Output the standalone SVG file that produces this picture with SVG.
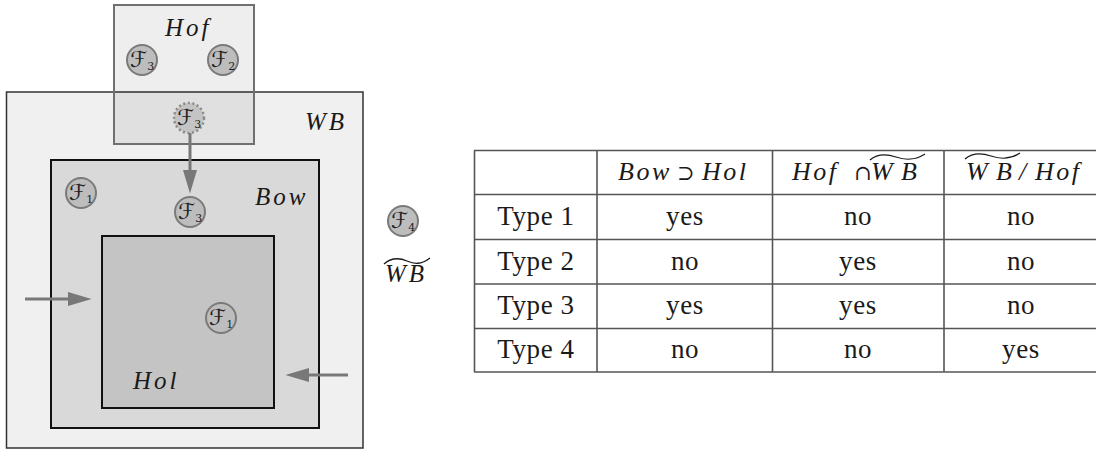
<svg xmlns="http://www.w3.org/2000/svg" width="1096" height="451" viewBox="0 0 1096 451">
<defs>
<marker id="ah" markerUnits="userSpaceOnUse" markerWidth="24" markerHeight="14" viewBox="0 0 22 13" refX="14" refY="6.5" orient="auto">
<path d="M0,0 L22,6.5 L0,13 z" fill="#787878"/>
</marker>
<style>
.lbl{font-family:"Liberation Serif","DejaVu Serif",serif;font-style:italic;font-size:25px;fill:#1a1a1a;letter-spacing:3px}
.cal{font-family:"DejaVu Serif","DejaVu Sans",serif;font-size:22px;fill:#222}
.sub{font-size:11px}
.cell{font-family:"Liberation Serif","DejaVu Serif",serif;font-size:27px;fill:#1a1a1a;text-anchor:middle;letter-spacing:0.6px}
.hd{font-family:"Liberation Serif","DejaVu Serif",serif;font-size:26px;font-style:italic;fill:#1a1a1a;letter-spacing:2.5px}
.op{font-family:"DejaVu Serif",serif;font-size:21px;fill:#1a1a1a}
.node{fill:#bdbdbd;stroke:#7a7a7a;stroke-width:2}
.tl{stroke:#555;stroke-width:1.6}
.tilde{fill:none;stroke:#1a1a1a;stroke-width:1.3}
.arrow{stroke:#787878;stroke-width:3;fill:none;marker-end:url(#ah)}
</style>
</defs>
<rect width="1096" height="451" fill="#fff"/>

<g id="WB">
<rect x="6.5" y="92" width="356.5" height="356" fill="#f0f0f0" stroke="#333" stroke-width="1.5"/>
<text class="lbl" x="305" y="130" letter-spacing="5">WB</text>
</g>
<g id="Hof">
<rect x="114" y="5" width="140" height="139" fill="#000" fill-opacity="0.065" stroke="#707070" stroke-width="2"/>
<text class="lbl" x="165" y="36">Hof</text>
</g>
<g id="Bow">
<rect x="51" y="160" width="268" height="268" fill="#d9d9d9" stroke="#111" stroke-width="2"/>
<text class="lbl" x="255" y="205">Bow</text>
</g>
<g id="Hol">
<rect x="102" y="236" width="172" height="172" fill="#c4c4c4" stroke="#111" stroke-width="2"/>
<text class="lbl" x="133" y="389" letter-spacing="2">Hol</text>
</g>

<g id="F3_hof">
<circle class="node" cx="142" cy="60" r="15"/>
<text class="cal" x="130" y="67">ℱ<tspan class="sub" dy="3">3</tspan></text>
</g>
<g id="F2_hof">
<circle class="node" cx="223" cy="60" r="15"/>
<text class="cal" x="211" y="67">ℱ<tspan class="sub" dy="3">2</tspan></text>
</g>
<g id="F3_dashed">
<circle cx="189" cy="118" r="15" fill="#c4c4c4" stroke="#8a8a8a" stroke-width="2.5" stroke-dasharray="2 2.6"/>
<text class="cal" x="177" y="125">ℱ<tspan class="sub" dy="3">3</tspan></text>
</g>
<g id="F1_bow">
<circle class="node" cx="81" cy="193" r="15"/>
<text class="cal" x="69" y="200">ℱ<tspan class="sub" dy="3">1</tspan></text>
</g>
<g id="F3_bow">
<circle class="node" cx="190" cy="212" r="15"/>
<text class="cal" x="178" y="219">ℱ<tspan class="sub" dy="3">3</tspan></text>
</g>
<g id="F1_hol">
<circle class="node" cx="221" cy="318" r="15" fill="#b8b8b8"/>
<text class="cal" x="209" y="325">ℱ<tspan class="sub" dy="3">1</tspan></text>
</g>
<g id="F4">
<circle class="node" cx="403" cy="221" r="15" fill="#c8c8c8"/>
<text class="cal" x="391" y="228">ℱ<tspan class="sub" dy="3">4</tspan></text>
</g>
<g id="WBtilde">
<path class="tilde" d="M384,264 C392,257 400,258 407,261 C414,264 421,265 430,258"/>
<text class="lbl" x="385" y="282" letter-spacing="5">WB</text>
</g>

<g id="connectors">
<line class="arrow" x1="190" y1="133" x2="190" y2="185"/>
<line class="arrow" x1="25" y1="299" x2="83" y2="299"/>
<line class="arrow" x1="348" y1="375" x2="294" y2="375"/>
</g>

<g id="table">
<g class="tl">
<line x1="474" y1="150.5" x2="1100" y2="150.5"/>
<line x1="474" y1="194.5" x2="1100" y2="194.5"/>
<line x1="474" y1="239.5" x2="1100" y2="239.5"/>
<line x1="474" y1="284" x2="1100" y2="284"/>
<line x1="474" y1="328.5" x2="1100" y2="328.5"/>
<line x1="474" y1="372" x2="1100" y2="372"/>
<line x1="474.5" y1="150.5" x2="474.5" y2="372"/>
<line x1="597" y1="150.5" x2="597" y2="372"/>
<line x1="772.5" y1="150.5" x2="772.5" y2="372"/>
<line x1="944" y1="150.5" x2="944" y2="372"/>
</g>
<text class="hd" x="618" y="180">Bow</text>
<text class="op" x="677" y="180">⊃</text>
<text class="hd" x="702" y="180">Hol</text>
<text class="hd" x="792" y="180">Hof</text>
<text class="op" x="854" y="180">∩</text>
<path class="tilde" d="M870,160 C878,153 887,154 896,157 C905,160 914,161 925,154"/>
<text class="hd" x="871" y="180">W<tspan x="901">B</tspan></text>
<path class="tilde" d="M965,159 C973,152 982,153 991,156 C1000,159 1009,160 1020,153"/>
<text class="hd" x="966" y="180">W<tspan x="996">B</tspan></text>
<text class="hd" x="1019" y="180">/</text>
<text class="hd" x="1035" y="180" letter-spacing="2">Hof</text>

<text class="cell" x="536" y="225">Type 1</text>
<text class="cell" x="685" y="225">yes</text>
<text class="cell" x="858" y="225">no</text>
<text class="cell" x="1021" y="225">no</text>
<text class="cell" x="536" y="269.5">Type 2</text>
<text class="cell" x="685" y="269.5">no</text>
<text class="cell" x="858" y="269.5">yes</text>
<text class="cell" x="1021" y="269.5">no</text>
<text class="cell" x="536" y="314">Type 3</text>
<text class="cell" x="685" y="314">yes</text>
<text class="cell" x="858" y="314">yes</text>
<text class="cell" x="1021" y="314">no</text>
<text class="cell" x="536" y="358">Type 4</text>
<text class="cell" x="685" y="358">no</text>
<text class="cell" x="858" y="358">no</text>
<text class="cell" x="1021" y="358">yes</text>
</g>
</svg>
